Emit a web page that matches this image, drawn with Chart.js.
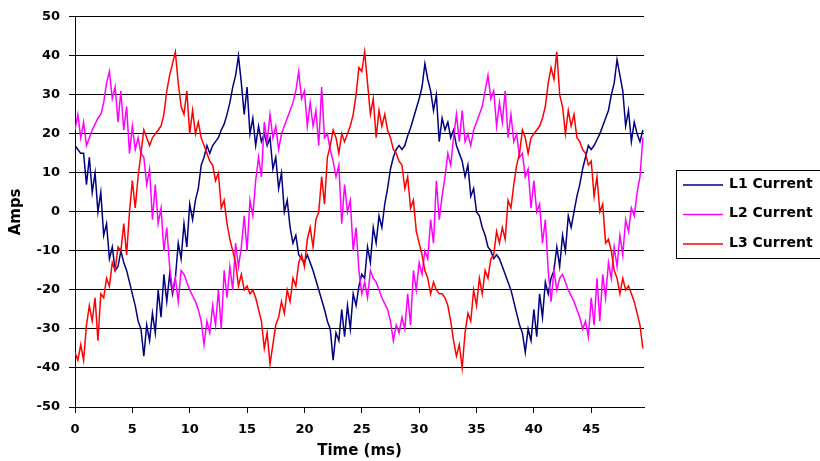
<!DOCTYPE html>
<html>
<head>
<meta charset="utf-8">
<script src="https://cdn.jsdelivr.net/npm/chart.js@4.4.0/dist/chart.umd.min.js"></script>
<style>
  html, body { margin: 0; padding: 0; background: #fff; }
</style>
</head>
<body>
<canvas id="mycanvas" width="820" height="461"></canvas>
<script>
// sample spacing of the recorded currents (ms) and the axis end
var STEP_MS = 0.25;
var X_MAX = 49.6;
var xTicks = [0, 5, 10, 15, 20, 25, 30, 35, 40, 45];

var seriesNames = ["L1 Current", "L2 Current", "L3 Current"];
var seriesColors = ["#000080", "#ff00ff", "#ff0000"];

// amps, one value every 0.25 ms from 0 ms
var l1 = [
  17,16,15,15,7,14,5,10,0,5,
  -6,-3,-12,-9,-15,-14,-10,-13,-15,-18,
  -21,-24,-28,-30,-37,-29,-33,-26,-31,-20,
  -27,-16,-23,-16,-21,-17,-8,-12,-3,-9,
  2,-2,3,6,12,14,17,15,17,18,
  19,21,22.5,25,28,32,35,40,33,25,
  32,20,24,17,22,18,20,17,19,11,
  14,6,10,0,3,-4,-8,-6,-11,-12,
  -13,-11,-13,-15,-17.5,-20,-22.5,-25,-28,-30,
  -38,-31,-33,-25,-32,-24,-30,-21,-24,-19,
  -16,-17,-9,-13,-4,-8,-1,-4,2,6,
  11,14,16,17,16,17,19.5,21.5,24,26.5,
  29,32,38,34,31,26,30,18,24,21,
  23,19,21,17,15,13,9,12,4,6,
  0,-1,-4,-6,-9,-10,-12,-11,-12,-14,
  -16,-18,-20,-23,-26,-29,-31,-36,-30,-33,
  -25,-32,-21,-27,-18,-21,-17,-15,-9,-14,
  -6,-10,-1,-4,0,4,7,11,14,17,
  16,17,18.5,20,22,24,26,30,33,39,
  35,31,22,26,18,23,20,18,21
];
var l2 = [
  21,25,19,23,17,19,21,22.5,24,25,
  28,33,36,29,32,23,31,21,27,15,
  22,16,19,15,14,7,11,-2,7,-3,
  1,-10,-4,-14,-20,-17,-23,-15,-16,-18,
  -20,-21.5,-23,-25,-28,-34,-28,-31,-24,-29,
  -20,-30,-15,-22,-14,-20,-8,-14,-9,-1,
  -10,3,-1,8,14,9,23,18,25,19,
  22,16,20,22,24,26,28,31,36,29,
  31,22,28,22,26,17,32,19,20,16,
  13,9,12,-3,7,0,3,-10,-4,-15,
  -21,-18,-22,-15,-17,-18,-20,-22,-23.5,-25,
  -28,-33,-29,-31,-27,-30,-21,-29,-15,-20,
  -13,-16,-10,-12,-2,-8,8,-2,4,9,
  15,12,19,25,18,26,18,20,17,21,
  23,25,27,31,35,29,31,22,28,23,
  31,19,25,18,20,14,15,9,11,1,
  8,0,2,-8,-2,-15,-23,-15,-20,-17,
  -16,-18,-20,-21.5,-23,-25,-27,-30,-28,-32,
  -22,-29,-17,-28,-16,-22,-13,-17,-9,-14,
  -6,-11,-2,-5,1,-1,5,9,19
];
var l3 = [
  -36,-38,-34,-38,-29,-24,-28,-22,-33,-21,
  -22,-17,-19,-13,-15,-9,-10,-3,-11,0,
  8,1,9,15,21,19,17,19,20,21,
  22,25,31,35,38,41,33,27,25,31,
  20,26,20,23,19,17,15,13,12,8,
  10,1,3,-3,-7,-10,-13,-19,-16,-20,
  -19,-21,-20,-22,-25,-28,-35,-31,-39,-34,
  -29,-27,-23,-26,-20,-23,-17,-19,-13,-11,
  -14,-7,-4,-9,-2,0,9,2,14,17,
  21,19,15,20,18,20,22,25,30,37,
  36,41,33,25,29,19,26,22,25,21,
  19,16,15,13,12,6,9,1,3,-5,
  -8,-11,-15,-17,-21,-18,-20,-21,-21,-22,
  -24,-28,-33,-37,-34,-40,-31,-26,-28,-20,
  -24,-17,-21,-15,-17,-12,-11,-5,-8,-4,
  -7,3,1,7,12,15,21,19,15,19,
  20,21,22,24,27,33,37,34,41,30,
  27,20,26,22,25,19,18,16,15,12,
  13,4,9,0,2,-8,-7,-10,-15,-17,
  -21,-17,-20,-19,-21,-23,-26,-29,-35
];

function toPoints(values) {
  var pts = [];
  for (var i in values) {
    pts.push({ x: i * STEP_MS, y: values[i] });
  }
  return pts;
}

var allSeries = [l1, l2, l3];
var datasets = [];
for (var s = 0; s < allSeries.length; s++) {
  datasets.push({
    label: seriesNames[s],
    data: toPoints(allSeries[s]),
    borderColor: seriesColors[s],
    backgroundColor: seriesColors[s],
    borderWidth: 1.5,
    pointRadius: 0,
    tension: 0,
    fill: false,
    order: allSeries.length - s
  });
}

// boxed legend on the right, cut by the edge like the original
var boxLegend = {
  id: "boxLegend",
  afterDraw: function(chart) {
    var ctx = chart.ctx;
    ctx.save();
    ctx.strokeStyle = "#000";
    ctx.lineWidth = 1;
    ctx.strokeRect(676.5, 170.5, 200, 88);
    ctx.font = "bold 14px 'DejaVu Sans', sans-serif";
    ctx.textBaseline = "middle";
    ctx.textAlign = "left";
    chart.data.datasets.forEach(function(ds, i) {
      var y = 185 + i * 29.5;
      ctx.strokeStyle = ds.borderColor;
      ctx.lineWidth = 1.5;
      ctx.beginPath();
      ctx.moveTo(683, y);
      ctx.lineTo(723, y);
      ctx.stroke();
      ctx.fillStyle = "#000";
      ctx.fillText(ds.label, 729, y - 1);
    });
    ctx.restore();
  }
};

Chart.defaults.font.family = "'DejaVu Sans', sans-serif";
Chart.defaults.color = "#000";

var ctx = document.getElementById("mycanvas");
var chart = new Chart(ctx, {
  type: "line",
  data: { datasets: datasets },
  plugins: [boxLegend],
  options: {
    responsive: false,
    devicePixelRatio: 1,
    animation: false,
    layout: { padding: { top: 13, right: 176, bottom: 0, left: 0 } },
    plugins: {
      legend: { display: false },
      tooltip: { enabled: false }
    },
    scales: {
      x: {
        type: "linear",
        min: 0,
        max: X_MAX,
        afterBuildTicks: function(scale) {
          scale.ticks = xTicks.map(function(v) { return { value: v }; });
        },
        afterFit: function(scale) { scale.height = 54; },
        ticks: { padding: 9, maxRotation: 0, autoSkip: false, font: { size: 13, weight: "bold" } },
        grid: { drawOnChartArea: false, color: "#000", tickLength: 6 },
        border: { color: "#000", width: 1 },
        title: {
          display: true,
          text: "Time (ms)",
          font: { size: 15, weight: "bold" },
          padding: { top: 0, bottom: 1 }
        }
      },
      y: {
        min: -50,
        max: 50,
        afterFit: function(scale) { scale.width = 75; },
        ticks: { stepSize: 10, padding: 9, font: { size: 13, weight: "bold" } },
        grid: { color: "#000", lineWidth: 1, tickLength: 6 },
        border: { color: "#000", width: 1 },
        title: {
          display: true,
          text: "Amps",
          font: { size: 15, weight: "bold" },
          padding: { top: 7, bottom: 0 }
        }
      }
    }
  }
});
</script>
</body>
</html>
